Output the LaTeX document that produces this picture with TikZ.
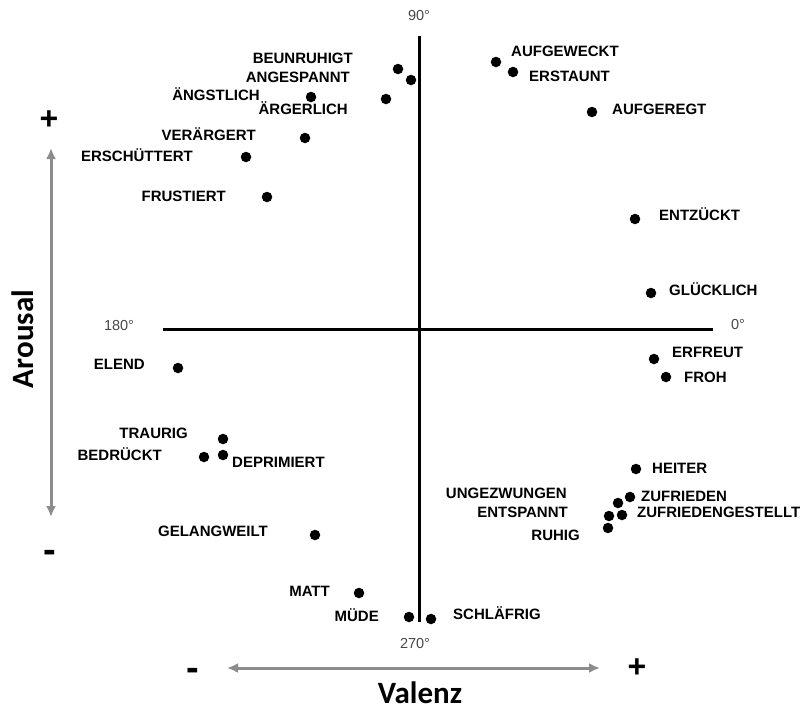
\documentclass[tikz,border=0pt]{standalone}
\usepackage{fontspec}
\setmainfont{Liberation Sans}
\newfontfamily\titlefont{Carlito}
\usetikzlibrary{arrows.meta}

\begin{document}
\begin{tikzpicture}[x=1pt,y=-1pt,
  dot/.style={circle,fill=black,inner sep=0pt,minimum size=10.5pt},
  lbl/.style={font=\fontsize{15}{18}\selectfont\bfseries,inner sep=0pt},
  lblL/.style={lbl,anchor=base east},
  lblR/.style={lbl,anchor=base west},
  deg/.style={font=\fontsize{14.5}{17}\selectfont,text=black!72,inner sep=0pt},
  axisline/.style={line width=3pt},
  scalearrow/.style={line width=3pt,draw=black!45,{Latex[length=11pt,width=10pt]}-{Latex[length=11pt,width=10pt]}},
  sign/.style={font=\fontsize{32}{36}\selectfont\bfseries,inner sep=0pt},
  minussign/.style={font=\fontsize{38}{42}\selectfont\bfseries,inner sep=0pt},
  axistitle/.style={font=\fontsize{31}{36}\selectfont\titlefont\bfseries,inner sep=0pt,anchor=base}]
\useasboundingbox (0,0) rectangle (805,705);

% axes of the circumplex
\coordinate (top) at (419,36);
\coordinate (bottom) at (419,622);
\coordinate (left) at (163,329);
\coordinate (right) at (713,329);
\draw[axisline] (top) -- (bottom);
\draw[axisline] (left) -- (right);

\node[deg] (d90) at (419,16) {90°};
\node[deg] (d180) at (119,325) {180°};
\node[deg] (d0) at (738,324) {0°};
\node[deg] (d270) at (415,643) {270°};

% arousal and valence scales
\coordinate (arTop) at (51,148);
\coordinate (arBot) at (51,517);
\coordinate (vaL) at (227,668);
\coordinate (vaR) at (600,668);
\draw[scalearrow] (arTop) -- (arBot);
\draw[scalearrow] (vaL) -- (vaR);
\node[sign] (arPlus) at (49,120) {+};
\node[minussign] (arMinus) at (50,556) {-};
\node[minussign] (vaMinus) at (193,674) {-};
\node[sign] (vaPlus) at (637,668) {+};
\node[axistitle,rotate=90] (arousal) at (33,339) {Arousal};
\node[axistitle] (valenz) at (420,703) {Valenz};

% emotion points
\node[dot] (beunruhigt) at (398,69) {};
\node[dot] (angespannt) at (411,80) {};
\node[dot] (aengstlich) at (311,97) {};
\node[dot] (aergerlich) at (386,99) {};
\node[dot] (veraergert) at (305,138) {};
\node[dot] (erschuettert) at (246,157) {};
\node[dot] (frustriert) at (267,197) {};
\node[dot] (aufgeweckt) at (496,62) {};
\node[dot] (erstaunt) at (513,72) {};
\node[dot] (aufgeregt) at (592,112) {};
\node[dot] (entzueckt) at (635,219) {};
\node[dot] (gluecklich) at (651,293) {};
\node[dot] (erfreut) at (654,359) {};
\node[dot] (froh) at (666,377) {};
\node[dot] (elend) at (178,368) {};
\node[dot] (traurig) at (223,439) {};
\node[dot] (bedrueckt) at (204,457) {};
\node[dot] (deprimiert) at (223,455) {};
\node[dot] (gelangweilt) at (315,535) {};
\node[dot] (heiter) at (636,469) {};
\node[dot] (zufrieden) at (630,497) {};
\node[dot] (ungezwungen) at (618,503) {};
\node[dot] (zufriedengestellt) at (622,515) {};
\node[dot] (entspannt) at (609,516) {};
\node[dot] (ruhig) at (608,528) {};
\node[dot] (matt) at (359,593) {};
\node[dot] (muede) at (409,617) {};
\node[dot] (schlaefrig) at (431,619) {};

% emotion labels
\node[lblL] (tBeunruhigt) at (353,63.4) {BEUNRUHIGT};
\node[lblL] (tAngespannt) at (350,82.4) {ANGESPANNT};
\node[lblL] (tAengstlich) at (260,100) {ÄNGSTLICH};
\node[lblL] (tAergerlich) at (348,114.5) {ÄRGERLICH};
\node[lblL] (tVeraergert) at (256,140.4) {VERÄRGERT};
\node[lblL] (tErschuettert) at (193,161.4) {ERSCHÜTTERT};
\node[lblL] (tFrustriert) at (226,201.4) {FRUSTIERT};
\node[lblL] (tElend) at (145,369.4) {ELEND};
\node[lblL] (tTraurig) at (188,438.4) {TRAURIG};
\node[lblL] (tBedrueckt) at (162,460.4) {BEDRÜCKT};
\node[lblL] (tGelangweilt) at (268,536.4) {GELANGWEILT};
\node[lblL] (tMatt) at (330,596.4) {MATT};
\node[lblL] (tMuede) at (379,621.4) {MÜDE};
\node[lblL] (tUngezwungen) at (567,498.4) {UNGEZWUNGEN};
\node[lblL] (tEntspannt) at (568,517.4) {ENTSPANNT};
\node[lblL] (tRuhig) at (580,540.4) {RUHIG};

\node[lblR] (tAufgeweckt) at (511,56.4) {AUFGEWECKT};
\node[lblR] (tErstaunt) at (529,81.4) {ERSTAUNT};
\node[lblR] (tAufgeregt) at (612,114.4) {AUFGEREGT};
\node[lblR] (tEntzueckt) at (659,220.4) {ENTZÜCKT};
\node[lblR] (tGluecklich) at (669,295.4) {GLÜCKLICH};
\node[lblR] (tErfreut) at (672,357.4) {ERFREUT};
\node[lblR] (tFroh) at (684,382.4) {FROH};
\node[lblR] (tHeiter) at (652,473.4) {HEITER};
\node[lblR] (tZufrieden) at (641,501.4) {ZUFRIEDEN};
\node[lblR] (tZufriedengestellt) at (637,517.4) {ZUFRIEDENGESTELLT};
\node[lblR] (tDeprimiert) at (232,467.4) {DEPRIMIERT};
\node[lblR] (tSchlaefrig) at (453,619.4) {SCHLÄFRIG};
\end{tikzpicture}
\end{document}
